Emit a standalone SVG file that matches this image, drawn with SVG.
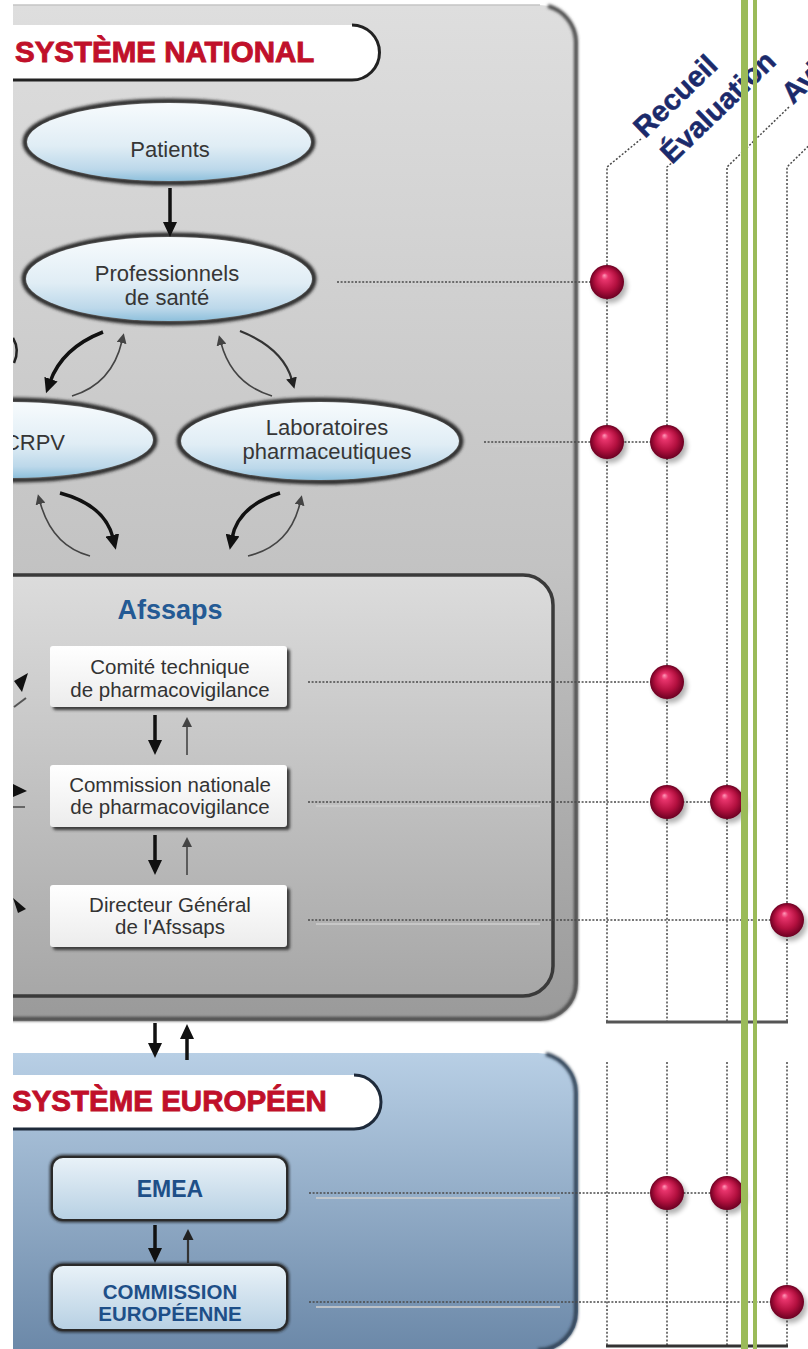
<svg xmlns="http://www.w3.org/2000/svg" width="808" height="1349" viewBox="0 0 808 1349">
<defs>
<style>
.t{font-family:"Liberation Sans",Arial,Helvetica,sans-serif}
.nt{font-size:22px;fill:#363636;text-anchor:middle}
.bt{font-size:20.5px;fill:#333;text-anchor:middle}
.hd{font-size:29.5px;font-weight:bold;fill:#c0102a;stroke:#c0102a;stroke-width:0.9}
.eu{font-weight:bold;fill:#1e4f88;text-anchor:middle}
.col{font-size:29px;font-weight:bold;fill:#1b2a6b;stroke:#1b2a6b;stroke-width:0.5}
.dot{stroke:#4a4a4a;stroke-width:1.6;stroke-dasharray:2 1.6;fill:none}
.vdot{stroke:#4a4a4a;stroke-width:1.5;stroke-dasharray:2 1.8;fill:none}
.dsh{stroke:#cdcdcd;stroke-width:2;fill:none;opacity:.8}
.thick{stroke:#111;stroke-width:3.5;fill:none}
.thin{stroke:#444;stroke-width:1.6;fill:none}
.med{stroke:#333;stroke-width:2.2;fill:none}
</style>
<linearGradient id="gNat" x1="0" y1="0" x2="0" y2="1"><stop offset="0" stop-color="#dedede"/><stop offset="0.55" stop-color="#c3c3c3"/><stop offset="1" stop-color="#9a9a9a"/></linearGradient>
<linearGradient id="gAfs" x1="0" y1="0" x2="0" y2="1"><stop offset="0" stop-color="#dcdcdc"/><stop offset="1" stop-color="#a7a7a7"/></linearGradient>
<linearGradient id="gEur" x1="0" y1="0" x2="0" y2="1"><stop offset="0" stop-color="#b8cfe5"/><stop offset="1" stop-color="#6b88a8"/></linearGradient>
<linearGradient id="gEll" x1="0" y1="0" x2="0" y2="1"><stop offset="0" stop-color="#f7fbfd"/><stop offset="0.55" stop-color="#e0edf5"/><stop offset="0.85" stop-color="#bcd8ea"/><stop offset="1" stop-color="#8ec0dc"/></linearGradient>
<linearGradient id="gBox" x1="0" y1="0" x2="0" y2="1"><stop offset="0" stop-color="#ffffff"/><stop offset="1" stop-color="#ececec"/></linearGradient>
<linearGradient id="gEbox" x1="0" y1="0" x2="0" y2="1"><stop offset="0" stop-color="#e9f2f8"/><stop offset="1" stop-color="#b7d0e3"/></linearGradient>
<radialGradient id="gSph" cx="0.5" cy="0.5" r="0.5" fx="0.42" fy="0.3"><stop offset="0" stop-color="#ff9ab9"/><stop offset="0.2" stop-color="#e8346c"/><stop offset="0.65" stop-color="#b3103f"/><stop offset="1" stop-color="#6c0022"/></radialGradient>
<filter id="blur" x="-20%" y="-20%" width="140%" height="140%"><feGaussianBlur stdDeviation="1.6"/></filter>
<filter id="blur3" x="-30%" y="-30%" width="160%" height="160%"><feGaussianBlur stdDeviation="2.5"/></filter>
<marker id="ahk" markerUnits="userSpaceOnUse" markerWidth="16" markerHeight="14" refX="3" refY="7" orient="auto"><path d="M0,0 L15,7 L0,14 z" fill="#111"/></marker>
<marker id="ahn" markerUnits="userSpaceOnUse" markerWidth="11" markerHeight="10" refX="2" refY="5" orient="auto"><path d="M0,0 L10,5 L0,10 z" fill="#444"/></marker>
<marker id="ahm" markerUnits="userSpaceOnUse" markerWidth="12" markerHeight="11" refX="2" refY="5.5" orient="auto"><path d="M0,0 L11,5.5 L0,11 z" fill="#222"/></marker>
<g id="sphere"><circle cx="3" cy="4" r="17" fill="#000" opacity="0.3" filter="url(#blur3)"/><circle r="17" fill="url(#gSph)"/></g>
</defs>

<rect x="0" y="0" width="808" height="1349" fill="#ffffff"/>

<g id="panel-national">
<path d="M-40,5 H540 A38,38 0 0 1 578,43 V983 A38,38 0 0 1 540,1021 H-40 Z" fill="url(#gNat)"/>
<path d="M-40,5 H540" stroke="#c4c4c4" stroke-width="1.5" fill="none"/>
<path d="M548,6 A38,38 0 0 1 576,41 V983 A36,36 0 0 1 540,1019 H-40" stroke="#4a4a4a" stroke-width="4" fill="none" filter="url(#blur)"/>
</g>

<g id="header-national">
<path d="M-10,25 H352 A27.5,27.5 0 0 1 352,80 H-10 Z" fill="#ffffff"/>
<path d="M-10,80 H352 A27.5,27.5 0 0 0 352,25" stroke="#222" stroke-width="3" fill="none"/>
<text class="t hd" x="15" y="62">SYSTÈME NATIONAL</text>
</g>

<g id="panel-afssaps">
<path d="M-40,575 H523 A30,30 0 0 1 553,605 V966 A30,30 0 0 1 523,996 H-40 Z" fill="url(#gAfs)" stroke="#3a3a3a" stroke-width="3.5"/>
<text class="t" x="170" y="619" font-size="27" font-weight="bold" fill="#245a94" text-anchor="middle">Afssaps</text>
</g>

<g id="panel-europe">
<path d="M-40,1053 H538 A40,40 0 0 1 578,1093 V1312 A40,40 0 0 1 538,1352 H-40 Z" fill="url(#gEur)"/>
<path d="M546,1054 A40,40 0 0 1 576,1093 V1312 A38,38 0 0 1 538,1350" stroke="#2f3f52" stroke-width="4" fill="none" filter="url(#blur)"/>
</g>

<g id="header-europe">
<path d="M-10,1075 H354 A27,27 0 0 1 354,1129 H-10 Z" fill="#ffffff"/>
<path d="M-10,1129 H354 A27,27 0 0 0 354,1075" stroke="#1e2a3a" stroke-width="3" fill="none"/>
<text class="t hd" x="12" y="1111">SYSTÈME EUROPÉEN</text>
</g>

<g id="node-patients">
<ellipse cx="169" cy="142" rx="144" ry="41" fill="none" stroke="#2a2a2a" stroke-width="5" filter="url(#blur)"/>
<ellipse cx="169" cy="142" rx="142" ry="39" fill="url(#gEll)"/>
<text class="t nt" x="170" y="157">Patients</text>
</g>

<g id="node-professionnels">
<ellipse cx="169" cy="279" rx="145" ry="44" fill="none" stroke="#2a2a2a" stroke-width="5" filter="url(#blur)"/>
<ellipse cx="169" cy="279" rx="143" ry="42" fill="url(#gEll)"/>
<text class="t nt" x="167" y="281">Professionnels</text>
<text class="t nt" x="167" y="305">de santé</text>
</g>

<g id="node-crpv">
<ellipse cx="12" cy="440" rx="143" ry="40" fill="none" stroke="#2a2a2a" stroke-width="5" filter="url(#blur)"/>
<ellipse cx="12" cy="440" rx="141" ry="38" fill="url(#gEll)"/>
<text class="t nt" x="65" y="450" style="text-anchor:end">CRPV</text>
</g>

<g id="node-laboratoires">
<ellipse cx="320" cy="441" rx="141" ry="41" fill="none" stroke="#2a2a2a" stroke-width="5" filter="url(#blur)"/>
<ellipse cx="320" cy="441" rx="139" ry="39" fill="url(#gEll)"/>
<text class="t nt" x="327" y="435">Laboratoires</text>
<text class="t nt" x="327" y="459">pharmaceutiques</text>
</g>

<g id="node-comite">
<rect x="53" y="649" width="237" height="61" rx="3" fill="#3a3a3a" filter="url(#blur)"/>
<rect x="50" y="646" width="237" height="61" rx="3" fill="url(#gBox)"/>
<text class="t bt" x="170" y="674">Comité technique</text>
<text class="t bt" x="170" y="697">de pharmacovigilance</text>
</g>

<g id="node-commission-nationale">
<rect x="53" y="768" width="237" height="62" rx="3" fill="#3a3a3a" filter="url(#blur)"/>
<rect x="50" y="765" width="237" height="62" rx="3" fill="url(#gBox)"/>
<text class="t bt" x="170" y="792">Commission nationale</text>
<text class="t bt" x="170" y="814">de pharmacovigilance</text>
</g>

<g id="node-directeur">
<rect x="53" y="888" width="237" height="62" rx="3" fill="#3a3a3a" filter="url(#blur)"/>
<rect x="50" y="885" width="237" height="62" rx="3" fill="url(#gBox)"/>
<text class="t bt" x="170" y="912">Directeur Général</text>
<text class="t bt" x="170" y="934">de l'Afssaps</text>
</g>

<g id="node-emea">
<rect x="52" y="1157" width="235" height="63" rx="11" fill="none" stroke="#1f1f1f" stroke-width="4" filter="url(#blur)"/>
<rect x="52" y="1157" width="235" height="63" rx="11" fill="url(#gEbox)" stroke="#2a2a2a" stroke-width="2"/>
<text class="t eu" x="170" y="1197" font-size="23">EMEA</text>
</g>

<g id="node-commission-europeenne">
<rect x="52" y="1265" width="235" height="65" rx="11" fill="none" stroke="#1f1f1f" stroke-width="4" filter="url(#blur)"/>
<rect x="52" y="1265" width="235" height="65" rx="11" fill="url(#gEbox)" stroke="#2a2a2a" stroke-width="2"/>
<text class="t eu" x="170" y="1299" font-size="20.5">COMMISSION</text>
<text class="t eu" x="170" y="1321" font-size="20.5">EUROPÉENNE</text>
</g>

<g id="connectors">
<path class="thick" d="M170,188 L170,225" marker-end="url(#ahk)"/>
<path class="thick" d="M155,715 L155,743" marker-end="url(#ahk)"/>
<path class="thin" d="M187,755 L187,725" marker-end="url(#ahn)"/>
<path class="thick" d="M155,835 L155,863" marker-end="url(#ahk)"/>
<path class="thin" d="M187,875 L187,845" marker-end="url(#ahn)"/>
<path class="thick" d="M155,1023 L155,1046" marker-end="url(#ahk)"/>
<path class="thick" d="M187,1060 L187,1036" marker-end="url(#ahk)"/>
<path class="thick" d="M155,1225 L155,1251" marker-end="url(#ahk)"/>
<path class="med" d="M188,1263 L188,1238" marker-end="url(#ahm)"/>
<path class="thick" d="M103,332 Q62,348 50,382" marker-end="url(#ahk)"/>
<path class="thin" d="M72,396 Q112,384 122,341" marker-end="url(#ahn)"/>
<path class="med" d="M240,331 Q283,348 292,380" marker-end="url(#ahm)"/>
<path class="thin" d="M272,396 Q232,384 221,343" marker-end="url(#ahn)"/>
<path class="thick" d="M60,493 Q105,505 113,538" marker-end="url(#ahk)"/>
<path class="thin" d="M90,556 Q52,546 40,502" marker-end="url(#ahn)"/>
<path class="thick" d="M280,493 Q238,506 232,538" marker-end="url(#ahk)"/>
<path class="thin" d="M248,556 Q290,546 300,503" marker-end="url(#ahn)"/>
<path d="M13,338 Q20,350 14,363" stroke="#222" stroke-width="2.5" fill="none"/>
<polygon points="14,681 28,673 22,692" fill="#111"/>
<path d="M14,707 L26,698" stroke="#555" stroke-width="2"/>
<polygon points="13,784 27,791 13,797" fill="#111"/>
<path d="M13,807 L25,807" stroke="#666" stroke-width="2"/>
<polygon points="13,898 26,909 18,913" fill="#111"/>
<path class="dsh" d="M345,286 L560,286"/>
<path class="dot" d="M337,282 L607,282"/>
<path class="dsh" d="M492,446 L560,446"/>
<path class="dot" d="M484,442 L667,442"/>
<path class="dsh" d="M316,686 L540,686"/>
<path class="dot" d="M308,682 L667,682"/>
<path class="dsh" d="M316,806 L540,806"/>
<path class="dot" d="M308,802 L727,802"/>
<path class="dsh" d="M316,924 L540,924"/>
<path class="dot" d="M308,920 L787,920"/>
<path class="dsh" d="M316,1198 L560,1198"/>
<path class="dot" d="M309,1193 L727,1193"/>
<path class="dsh" d="M316,1307 L560,1307"/>
<path class="dot" d="M309,1302 L787,1302"/>
</g>

<g id="matrix">
<path class="vdot" d="M641,139 L607,167 L607,1022"/>
<path class="vdot" d="M674,161 L667,167 L667,1022"/>
<path class="vdot" d="M789,107 L727,167 L727,1022"/>
<path class="vdot" d="M830,125 L787,167 L787,1022"/>
<path d="M606,1022 H788" stroke="#555" stroke-width="3" fill="none"/>
<path class="vdot" d="M607,1062 V1346"/>
<path class="vdot" d="M667,1062 V1346"/>
<path class="vdot" d="M727,1062 V1346"/>
<path class="vdot" d="M787,1062 V1346"/>
<path d="M606,1346 H788" stroke="#333" stroke-width="3" fill="none"/>
<text class="t col" transform="translate(645,139) rotate(-44)">Recueil</text>
<text class="t col" transform="translate(672,165) rotate(-44)">Évaluation</text>
<text class="t col" transform="translate(793,105) rotate(-44)">Avis</text>
</g>

<g id="points">
<use href="#sphere" transform="translate(607,282)"/>
<use href="#sphere" transform="translate(607,442)"/>
<use href="#sphere" transform="translate(667,442)"/>
<use href="#sphere" transform="translate(667,682)"/>
<use href="#sphere" transform="translate(667,802)"/>
<use href="#sphere" transform="translate(727,802)"/>
<use href="#sphere" transform="translate(787,920)"/>
<use href="#sphere" transform="translate(667,1193)"/>
<use href="#sphere" transform="translate(727,1193)"/>
<use href="#sphere" transform="translate(787,1302)"/>
</g>

<rect x="0" y="0" width="13" height="1349" fill="#ffffff"/>

<g id="green-lines">
<rect x="741" y="0" width="7" height="1349" fill="#9bbb59"/>
<rect x="753" y="0" width="4" height="1349" fill="#9bbb59"/>
</g>
</svg>
